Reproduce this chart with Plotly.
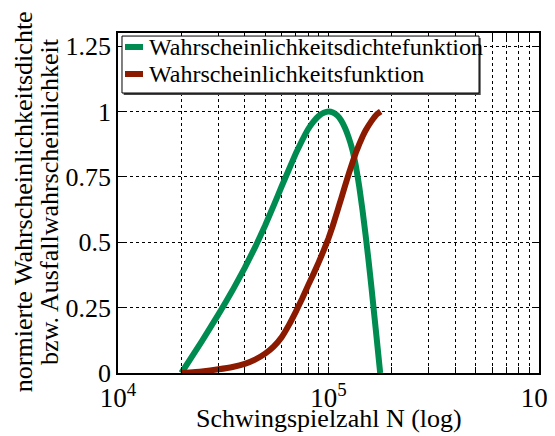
import plotly.graph_objects as go

# Data
n_dichte = [2.0e4, 2.5e4, 3.0e4, 3.5e4, 4.0e4, 4.5e4, 5.0e4, 5.5e4, 6.0e4,
            6.5e4, 7.0e4, 7.5e4, 8.0e4, 8.5e4, 9.0e4, 9.5e4, 1.0e5, 1.05e5, 1.1e5, 1.15e5,
            1.2e5, 1.25e5, 1.3e5, 1.35e5, 1.4e5, 1.45e5, 1.5e5, 1.55e5, 1.6e5, 1.65e5,
            1.7e5, 1.76e5]
y_dichte = [0.0, 0.121, 0.224, 0.316, 0.402, 0.484, 0.564, 0.642, 0.715,
            0.78, 0.84, 0.89, 0.932, 0.962, 0.983, 0.995, 1.0, 0.996, 0.985, 0.965,
            0.936, 0.898, 0.852, 0.79, 0.712, 0.624, 0.528, 0.43, 0.327, 0.222,
            0.12, 0.0]

n_vert = [2.0e4, 2.5e4, 3.0e4, 3.5e4, 4.0e4, 4.5e4, 5.0e4, 5.5e4, 6.0e4, 6.5e4, 7.0e4,
          7.5e4, 8.0e4, 8.5e4, 9.0e4, 9.5e4, 1.0e5, 1.05e5, 1.1e5, 1.15e5, 1.2e5, 1.25e5,
          1.3e5, 1.35e5, 1.4e5, 1.45e5, 1.5e5, 1.6e5, 1.7e5, 1.77e5]
y_vert = [0.0, 0.006, 0.014, 0.023, 0.035, 0.052, 0.074, 0.102, 0.138, 0.185, 0.235,
          0.285, 0.335, 0.38, 0.425, 0.47, 0.515, 0.565, 0.617, 0.668, 0.717, 0.763,
          0.805, 0.843, 0.875, 0.903, 0.927, 0.963, 0.99, 1.0]

name_dichte = "Wahrscheinlichkeitsdichtefunktion"
name_vert = "Wahrscheinlichkeitsfunktion"

y_ticks = [0, 0.25, 0.5, 0.75, 1, 1.25]
y_ticktext = ["0", "0.25", "0.5", "0.75", "1", "1.25"]

x_decades = [1e4, 1e5, 1e6]
x_ticktext_dec = ["10<sup>4</sup>", "10<sup>5</sup>", "10<sup>6</sup>"]

x_title = "Schwingspielzahl N (log)"
y_title_lines = ["normierte Wahrscheinlichkeitsdichte", "bzw. Ausfallwahrscheinlichkeit"]

# tick list incl. minor positions (for the grid)
x_tickvals = []
x_ticktext = []
for d, t in zip(x_decades, x_ticktext_dec):
    for m in range(1, 10):
        v = d * m
        if v > 1e6:
            break
        x_tickvals.append(v)
        x_ticktext.append(t if m == 1 else "")

FONT = "Liberation Serif"
GREEN = "#008c50"
RED = "#8b1a00"

fig = go.Figure()
fig.add_trace(go.Scatter(x=n_dichte, y=y_dichte, mode="lines", name=name_dichte,
                         line=dict(color=GREEN, width=6, shape="spline", smoothing=0.3),
                         showlegend=False))
fig.add_trace(go.Scatter(x=n_vert, y=y_vert, mode="lines", name=name_vert,
                         line=dict(color=RED, width=6, shape="spline", smoothing=0.3),
                         showlegend=False))

# Legend box (Matlab style) drawn in plot-area coordinates
legend_entries = [(name_dichte, GREEN), (name_vert, RED)]
box = dict(x0=0.0095, x1=0.8575, y0=0.8235, y1=0.991)
fig.add_shape(type="rect", xref="paper", yref="paper",
              x0=box["x0"] + 0.004, x1=box["x1"] + 0.004, y0=box["y0"] - 0.006, y1=box["y1"] - 0.006,
              line=dict(width=0), fillcolor="#444444", layer="above")
fig.add_shape(type="rect", xref="paper", yref="paper", **box,
              line=dict(color="black", width=1), fillcolor="white", layer="above")
row_y = [0.9588, 0.8794]
for (txt, col), ry in zip(legend_entries, row_y):
    fig.add_shape(type="line", xref="paper", yref="paper",
                  x0=0.0166, x1=0.0594, y0=ry, y1=ry,
                  line=dict(color=col, width=6), layer="above")
    fig.add_annotation(xref="paper", yref="paper", x=0.068, y=ry,
                       text=txt, showarrow=False, xanchor="left", yanchor="middle",
                       font=dict(family=FONT, size=24, color="black"))

# axis titles placed as text (closer line spacing than the built-in title)
fig.add_annotation(xref="paper", yref="paper", x=0.501, y=-0.135,
                   text=x_title, showarrow=False, xanchor="center", yanchor="middle",
                   font=dict(family=FONT, size=26, color="black"))
for line, px in zip(y_title_lines, [-0.226, -0.162]):
    fig.add_annotation(xref="paper", yref="paper", x=px, y=0.505,
                       text=line, showarrow=False, textangle=-90,
                       xanchor="center", yanchor="middle",
                       font=dict(family=FONT, size=26, color="black"))

# the page body adds an 8px offset; margins compensate for it
fig.update_layout(
    width=555, height=436,
    margin=dict(l=110, r=24, t=25, b=71),
    paper_bgcolor="white", plot_bgcolor="white",
    font=dict(family=FONT, size=24, color="black"),
    showlegend=False,
)
fig.update_xaxes(
    type="log", range=[4, 6], automargin=False,
    tickvals=x_tickvals, ticktext=x_ticktext,
    ticks="inside", ticklen=6, tickcolor="black",
    showgrid=True, gridcolor="black", griddash="dot", gridwidth=1,
    showline=True, linecolor="black", linewidth=1.5, mirror="ticks",
    zeroline=False,
    tickfont=dict(family=FONT, size=27),
)
fig.update_yaxes(
    range=[0, 1.3], automargin=False,
    tickvals=y_ticks, ticktext=y_ticktext,
    ticks="inside", ticklen=6, tickcolor="black",
    showgrid=True, gridcolor="black", griddash="dot", gridwidth=1,
    showline=True, linecolor="black", linewidth=1.5, mirror="ticks",
    zeroline=False,
    tickfont=dict(family=FONT, size=26),
)

fig.write_html("out.html")
